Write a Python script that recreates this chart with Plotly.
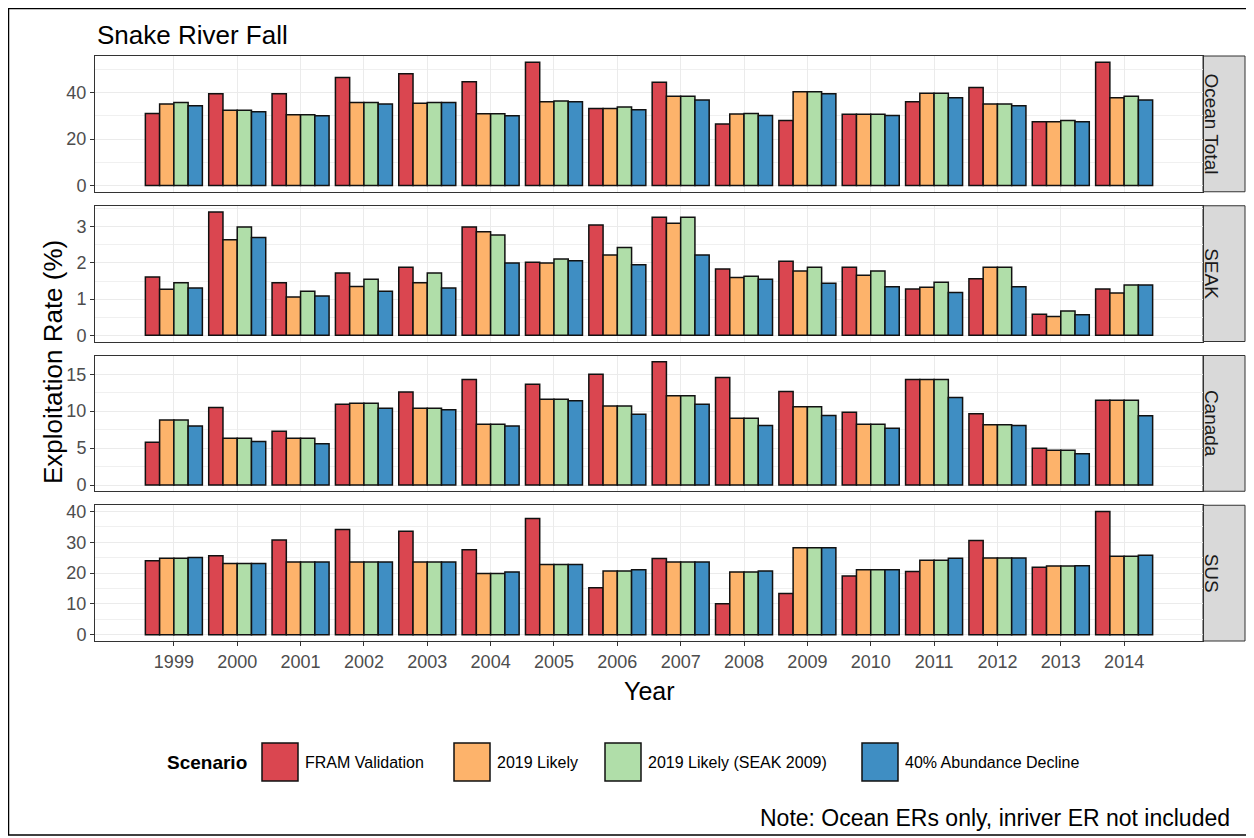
import plotly.graph_objects as go
from plotly.subplots import make_subplots

years = list(range(1999, 2015))
scenarios = ["FRAM Validation", "2019 Likely", "2019 Likely (SEAK 2009)", "40% Abundance Decline"]
colors = ["#DA4650", "#FDB36B", "#B0DEA9", "#3F8EC3"]
panels = ["Ocean Total", "SEAK", "Canada", "SUS"]
panel_dtick = [20, 1, 5, 10]

ocean_fram = [31.0, 39.4, 39.4, 46.4, 48.0, 44.6, 53.0, 33.1, 44.4, 26.4, 28.0, 30.6, 36.0, 42.1, 27.4, 53.0]
ocean_likely = [35.0, 32.3, 30.4, 35.7, 35.4, 30.9, 36.0, 33.1, 38.4, 30.7, 40.3, 30.6, 39.7, 35.0, 27.4, 37.7]
ocean_seak09 = [35.7, 32.3, 30.4, 35.7, 35.7, 30.9, 36.3, 33.7, 38.4, 31.0, 40.3, 30.6, 39.7, 35.0, 27.9, 38.4]
ocean_decline = [34.3, 31.7, 30.0, 35.0, 35.7, 30.0, 36.0, 32.6, 36.7, 30.1, 39.4, 30.1, 37.7, 34.3, 27.4, 36.7]

seak_fram = [1.61, 3.41, 1.45, 1.72, 1.88, 2.99, 2.02, 3.05, 3.26, 1.83, 2.05, 1.88, 1.28, 1.56, 0.58, 1.28]
seak_likely = [1.27, 2.64, 1.06, 1.35, 1.45, 2.86, 2.00, 2.22, 3.10, 1.60, 1.78, 1.66, 1.33, 1.88, 0.52, 1.17]
seak_seak09 = [1.45, 2.99, 1.22, 1.55, 1.72, 2.77, 2.11, 2.43, 3.26, 1.63, 1.88, 1.78, 1.47, 1.88, 0.67, 1.39]
seak_decline = [1.31, 2.70, 1.09, 1.22, 1.31, 2.00, 2.06, 1.95, 2.22, 1.55, 1.44, 1.34, 1.18, 1.34, 0.57, 1.39]

canada_fram = [5.8, 10.5, 7.3, 10.95, 12.6, 14.3, 13.65, 15.0, 16.7, 14.55, 12.66, 9.86, 14.28, 9.64, 5.0, 11.49]
canada_likely = [8.8, 6.35, 6.35, 11.08, 10.4, 8.24, 11.6, 10.7, 12.1, 9.05, 10.6, 8.24, 14.28, 8.15, 4.73, 11.49]
canada_seak09 = [8.8, 6.35, 6.35, 11.08, 10.4, 8.24, 11.6, 10.7, 12.1, 9.05, 10.6, 8.24, 14.28, 8.15, 4.73, 11.49]
canada_decline = [8.0, 5.9, 5.6, 10.4, 10.2, 8.0, 11.4, 9.6, 10.95, 8.06, 9.41, 7.7, 11.85, 8.06, 4.23, 9.37]

sus_fram = [24.0, 25.6, 30.7, 34.1, 33.6, 27.6, 37.7, 15.3, 24.7, 10.1, 13.4, 19.1, 20.5, 30.6, 21.9, 40.0]
sus_likely = [24.8, 23.1, 23.6, 23.6, 23.6, 19.9, 22.8, 20.7, 23.6, 20.4, 28.2, 21.1, 24.2, 24.9, 22.3, 25.5]
sus_seak09 = [24.8, 23.1, 23.6, 23.6, 23.6, 19.9, 22.8, 20.7, 23.6, 20.4, 28.2, 21.1, 24.2, 24.9, 22.3, 25.5]
sus_decline = [25.1, 23.1, 23.6, 23.6, 23.6, 20.4, 22.8, 21.1, 23.6, 20.7, 28.2, 21.1, 24.8, 24.9, 22.4, 25.8]

panel_data = [
    [ocean_fram, ocean_likely, ocean_seak09, ocean_decline],
    [seak_fram, seak_likely, seak_seak09, seak_decline],
    [canada_fram, canada_likely, canada_seak09, canada_decline],
    [sus_fram, sus_likely, sus_seak09, sus_decline],
]

FONT = "Liberation Sans, Arial, sans-serif"
OFF = 8  # the page body adds an 8px margin around the figure
W, H = 1254 - OFF, 838 - OFF
L, T = 95 - OFF, 56 - OFF
R, B = W - (1203 - OFF), H - (641 - OFF)
PW, PH = W - L - R, H - T - B


# helpers: screen pixel -> paper coordinate
def px_x(px):
    return (px - OFF - L) / PW


def px_y(py):
    return (H - B - (py - OFF)) / PH


fig = make_subplots(rows=4, cols=1, vertical_spacing=14 / PH)

for row, series in enumerate(panel_data, start=1):
    for name, color, vals in zip(scenarios, colors, series):
        fig.add_trace(go.Bar(x=years, y=vals, name=name, marker_color=color,
                             marker_line_color="#111111", marker_line_width=1.5,
                             showlegend=False), row=row, col=1)

# ggplot style ranges: bars are 0.9 wide, 5% expansion
lo, hi = years[0] - 0.45, years[-1] + 0.45
pad = 0.05 * (hi - lo)
for row, series in enumerate(panel_data, start=1):
    ymax = max(max(s) for s in series)
    d = panel_dtick[row - 1]
    fig.update_yaxes(range=[-0.05 * ymax, 1.05 * ymax], tickmode="linear", tick0=0, dtick=d,
                     minor=dict(dtick=d / 2, tick0=0, showgrid=True, gridcolor="#F0F0F0", gridwidth=0.6),
                     showgrid=True, gridcolor="#EBEBEB", gridwidth=1, zeroline=False,
                     showline=True, mirror=True, linecolor="#333333", linewidth=1,
                     ticks="outside", ticklen=4, tickcolor="#333333",
                     tickfont=dict(family=FONT, size=18, color="#4D4D4D"), row=row, col=1)
    fig.update_xaxes(range=[lo - pad, hi + pad], tickmode="array", tickvals=years,
                     showgrid=True, gridcolor="#EBEBEB", gridwidth=1, zeroline=False,
                     showline=True, mirror=True, linecolor="#333333", linewidth=1,
                     showticklabels=(row == 4), ticks="outside" if row == 4 else "",
                     ticklen=4, tickcolor="#333333",
                     tickfont=dict(family=FONT, size=18, color="#4D4D4D"), row=row, col=1)

shapes = []
annotations = []
for i, name in enumerate(panels, start=1):
    yref = "y domain" if i == 1 else f"y{i} domain"
    shapes.append(dict(type="rect", xref="paper", yref=yref, x0=1, x1=px_x(1245), y0=0, y1=1,
                       fillcolor="#D9D9D9", line=dict(color="#333333", width=1), layer="below"))
    annotations.append(dict(xref="paper", yref=yref, x=px_x(1224), y=0.5, text=name, textangle=90,
                            showarrow=False, font=dict(family=FONT, size=19, color="#1A1A1A")))

annotations += [
    dict(xref="paper", yref="paper", x=px_x(95), y=px_y(35), xanchor="left", yanchor="middle",
         text="Snake River Fall", showarrow=False, font=dict(family=FONT, size=26, color="black")),
    dict(xref="paper", yref="paper", x=px_x(36), y=px_y(362), text="Exploitation Rate (%)", textangle=-90,
         showarrow=False, font=dict(family=FONT, size=26, color="black")),
    dict(xref="paper", yref="paper", x=0.5, y=px_y(691), text="Year", yanchor="middle",
         showarrow=False, font=dict(family=FONT, size=25, color="black")),
    dict(xref="paper", yref="paper", x=px_x(1232), y=px_y(818), xanchor="right", yanchor="middle",
         text="Note: Ocean ERs only, inriver ER not included", showarrow=False,
         font=dict(family=FONT, size=23, color="black")),
    dict(xref="paper", yref="paper", x=px_x(165), y=px_y(762), xanchor="left", yanchor="middle",
         text="<b>Scenario</b>", showarrow=False, font=dict(family=FONT, size=19, color="black")),
]

# legend keys drawn by hand (ggplot-like keys)
key_left = [262, 454, 605, 862]
for kx, name, color in zip(key_left, scenarios, colors):
    shapes.append(dict(type="rect", xref="paper", yref="paper", x0=px_x(kx), x1=px_x(kx + 36),
                       y0=px_y(781), y1=px_y(743), fillcolor=color, line=dict(color="#111111", width=1.5)))
    annotations.append(dict(xref="paper", yref="paper", x=px_x(kx + 41), y=px_y(762), xanchor="left",
                            yanchor="middle", text=name, showarrow=False,
                            font=dict(family=FONT, size=16, color="black")))

# outer frame around the whole picture
shapes.append(dict(type="rect", xref="paper", yref="paper", x0=px_x(8.5), x1=px_x(1250),
                   y0=px_y(835), y1=px_y(8.5), line=dict(color="black", width=1.5)))

fig.update_layout(width=W, height=H, margin=dict(l=L, r=R, t=T, b=B),
                  barmode="group", bargap=0.1, bargroupgap=0,
                  plot_bgcolor="white", paper_bgcolor="white",
                  shapes=shapes, annotations=annotations, showlegend=False,
                  font=dict(family=FONT))

fig.write_html("out.html")
